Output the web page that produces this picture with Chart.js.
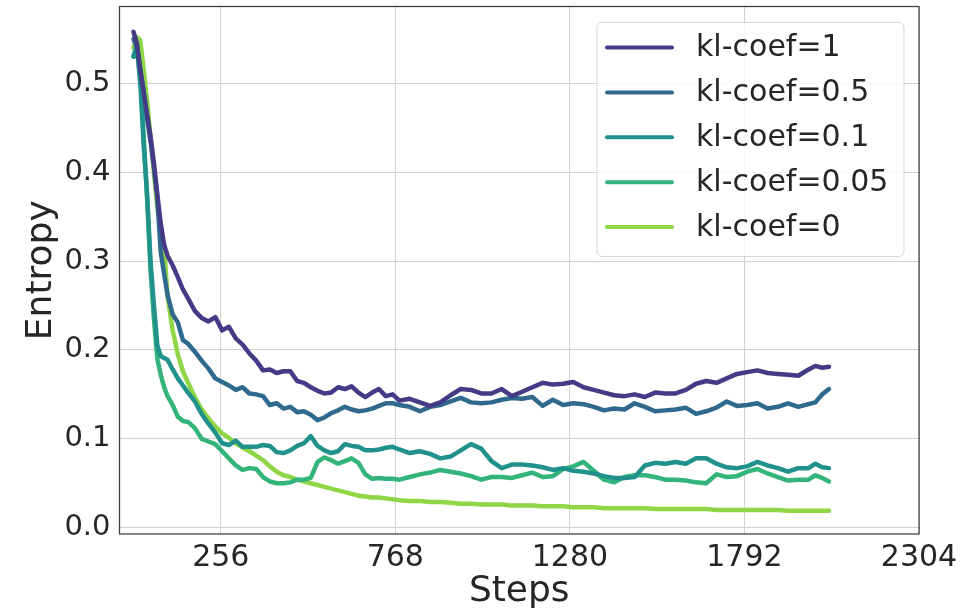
<!DOCTYPE html>
<html>
	<head>
		<meta charset="utf-8">
		<title>Entropy vs steps</title>
		<style>
			body {
				margin: 0;
				padding: 0;
				background: #fff;
			}
			#wrap {
				position: relative;
				width: 974px;
				height: 612px;
			}
		</style>
	</head>
	<body>
		<div id="wrap">
			<canvas id="myChart" width="974" height="612"></canvas>
		</div>
		<script src="https://cdn.jsdelivr.net/npm/chart.js@4.4.1/dist/chart.umd.min.js"></script>

		<script>
			// x positions of the readings (training steps)
			const steps = [
				0, 10, 20, 30, 40, 50, 60, 70, 80, 90, 100, 115, 130, 145, 160,
				180, 200, 220, 240, 260, 280, 300, 320, 340, 360, 380, 400, 420, 440, 460,
				480, 500, 520, 540, 560, 580, 600, 620, 640, 660, 680, 700, 720, 740, 760, 780,
				810, 840, 870, 900, 930, 960, 990, 1020, 1050, 1080, 1110, 1140, 1170, 1200,
				1230, 1260, 1290, 1320, 1350, 1380, 1410, 1440, 1470, 1500, 1530, 1560, 1590,
				1620, 1650, 1680, 1710, 1740, 1770, 1800, 1830, 1860, 1890, 1920, 1950, 1980,
				2000, 2020, 2040
			];

			const kl1 = [
				0.558, 0.545, 0.515, 0.49, 0.465, 0.44, 0.41, 0.375, 0.342, 0.318, 0.306, 0.295, 0.282, 0.268, 0.258,
				0.244, 0.236, 0.232, 0.237, 0.222, 0.226, 0.213, 0.206, 0.196, 0.188, 0.177, 0.178, 0.174, 0.176, 0.176,
				0.165, 0.163, 0.158, 0.154, 0.151, 0.152, 0.158, 0.156, 0.159, 0.152, 0.147, 0.152, 0.156, 0.148, 0.15, 0.143,
				0.145, 0.141, 0.137, 0.141, 0.149, 0.156, 0.155, 0.151, 0.151, 0.156, 0.148, 0.153, 0.158, 0.163,
				0.161, 0.162, 0.164, 0.158, 0.155, 0.152, 0.149, 0.148, 0.15, 0.147, 0.152, 0.151, 0.151,
				0.155, 0.162, 0.165, 0.163, 0.168, 0.173, 0.175, 0.177, 0.174, 0.173, 0.172, 0.171, 0.178,
				0.182, 0.18, 0.181
			];
			const kl05 = [
				0.55, 0.54, 0.515, 0.49, 0.46, 0.435, 0.405, 0.37, 0.31, 0.285, 0.262, 0.24, 0.231, 0.211, 0.207,
				0.198, 0.188, 0.179, 0.168, 0.164, 0.16, 0.155, 0.158, 0.151, 0.15, 0.148, 0.138, 0.14, 0.134, 0.136,
				0.13, 0.131, 0.127, 0.121, 0.124, 0.129, 0.132, 0.136, 0.133, 0.131, 0.132, 0.134, 0.137, 0.14, 0.14, 0.138,
				0.136, 0.131, 0.136, 0.138, 0.142, 0.146, 0.141, 0.14, 0.141, 0.144, 0.146, 0.145, 0.147, 0.137,
				0.144, 0.138, 0.14, 0.139, 0.136, 0.132, 0.134, 0.133, 0.14, 0.136, 0.131, 0.132, 0.133,
				0.135, 0.128, 0.131, 0.135, 0.142, 0.137, 0.138, 0.14, 0.134, 0.136, 0.14, 0.136, 0.139,
				0.141, 0.15, 0.156
			];
			const kl01 = [
				0.53, 0.54, 0.5, 0.43, 0.375, 0.3, 0.25, 0.205, 0.193, 0.191, 0.189, 0.178, 0.168, 0.16, 0.152,
				0.142, 0.128, 0.117, 0.107, 0.095, 0.093, 0.098, 0.091, 0.091, 0.091, 0.093, 0.092, 0.085, 0.084, 0.087,
				0.092, 0.095, 0.103, 0.092, 0.087, 0.084, 0.086, 0.094, 0.092, 0.091, 0.087, 0.087, 0.088, 0.09, 0.091, 0.088,
				0.084, 0.086, 0.083, 0.078, 0.08, 0.087, 0.094, 0.089, 0.075, 0.067, 0.071, 0.071, 0.07, 0.068,
				0.065, 0.067, 0.064, 0.063, 0.061, 0.058, 0.056, 0.056, 0.057, 0.07, 0.073, 0.072, 0.074,
				0.072, 0.078, 0.078, 0.072, 0.068, 0.067, 0.069, 0.074, 0.07, 0.067, 0.063, 0.067, 0.067,
				0.072, 0.068, 0.067
			];
			const kl005 = [
				0.53, 0.545, 0.51, 0.44, 0.37, 0.29, 0.235, 0.19, 0.172, 0.158, 0.148, 0.138, 0.125, 0.12, 0.119,
				0.112, 0.1, 0.097, 0.094, 0.086, 0.078, 0.07, 0.065, 0.067, 0.066, 0.057, 0.052, 0.05, 0.05, 0.051,
				0.054, 0.054, 0.056, 0.074, 0.079, 0.076, 0.072, 0.075, 0.078, 0.073, 0.06, 0.055, 0.056, 0.055, 0.055, 0.054,
				0.057, 0.06, 0.062, 0.065, 0.063, 0.061, 0.058, 0.054, 0.057, 0.057, 0.056, 0.059, 0.062, 0.057,
				0.058, 0.066, 0.069, 0.074, 0.064, 0.054, 0.051, 0.057, 0.059, 0.059, 0.057, 0.054, 0.054,
				0.053, 0.051, 0.05, 0.06, 0.057, 0.058, 0.063, 0.066, 0.061, 0.057, 0.053, 0.054, 0.054,
				0.059, 0.056, 0.052
			];
			const kl0 = [
				0.54, 0.552, 0.548, 0.515, 0.48, 0.44, 0.4, 0.36, 0.335, 0.315, 0.26, 0.222, 0.195, 0.176, 0.163,
				0.147, 0.133, 0.123, 0.114, 0.106, 0.101, 0.095, 0.09, 0.086, 0.081, 0.076, 0.069, 0.063, 0.059, 0.057,
				0.054, 0.052, 0.05, 0.048, 0.046, 0.044, 0.042, 0.04, 0.038, 0.036, 0.035, 0.034, 0.034, 0.033, 0.032, 0.031,
				0.03, 0.03, 0.029, 0.029, 0.028, 0.027, 0.027, 0.026, 0.026, 0.026, 0.025, 0.025, 0.025, 0.024,
				0.024, 0.024, 0.023, 0.023, 0.023, 0.022, 0.022, 0.022, 0.022, 0.022, 0.021, 0.021, 0.021,
				0.021, 0.021, 0.021, 0.02, 0.02, 0.02, 0.02, 0.02, 0.02, 0.02, 0.019, 0.019, 0.019,
				0.019, 0.019, 0.019
			];

			const labels = ["kl-coef=1", "kl-coef=0.5", "kl-coef=0.1", "kl-coef=0.05", "kl-coef=0"];
			const colors = ["#433b86", "#2f6a8e", "#21918c", "#33b47a", "#8ed645"];
			const xTicks = [256, 768, 1280, 1792, 2304];
			const yTicks = [0.0, 0.1, 0.2, 0.3, 0.4, 0.5];

			const series = [kl1, kl05, kl01, kl005, kl0];
			const FONT = "'DejaVu Sans', sans-serif";
			const INK = "#262626";

			// spines on all four sides
			const frame = {
				id: "frame",
				afterDatasetsDraw(chart) {
					const a = chart.chartArea;
					const c = chart.ctx;
					c.save();
					c.strokeStyle = "#3d3d3d";
					c.lineWidth = 1.25;
					c.strokeRect(a.left, a.top, a.right - a.left, a.bottom - a.top);
					c.restore();
				},
			};

			// matplotlib style legend box, top right inside the axes
			const boxLegend = {
				id: "boxLegend",
				afterDraw(chart) {
					const a = chart.chartArea;
					const c = chart.ctx;
					const x0 = a.right - 15, y0 = a.top + 16;
					const w = 307, h = 234;
					const bx = x0 - w;
					c.save();
					c.beginPath();
					c.roundRect(bx, y0, w, h, 5);
					c.fillStyle = "rgba(255,255,255,0.8)";
					c.fill();
					c.strokeStyle = "rgba(204,204,204,0.8)";
					c.lineWidth = 1;
					c.stroke();
					c.font = "30px " + FONT;
					c.textBaseline = "middle";
					c.fillStyle = INK;
					chart.data.datasets.forEach((ds, i) => {
						const y = y0 + 25 + i * 44.9;
						c.beginPath();
						c.moveTo(bx + 10, y);
						c.lineTo(bx + 75, y);
						c.strokeStyle = ds.borderColor;
						c.lineWidth = 4;
						c.lineCap = "round";
						c.stroke();
						c.fillText(ds.label, bx + 99, y + 1);
					});
					c.restore();
				},
			};

			new Chart(document.getElementById("myChart"), {
				type: "line",
				data: {
					labels: steps,
					datasets: series.map((vals, i) => ({
						label: labels[i],
						data: vals.map((v, j) => ({ x: steps[j], y: v })),
						borderColor: colors[i],
						backgroundColor: colors[i],
						borderWidth: 4.5,
						borderCapStyle: "round",
						borderJoinStyle: "round",
						pointRadius: 0,
						tension: 0,
						fill: false,
					})),
				},
				options: {
					responsive: false,
					animation: false,
					layout: { padding: { top: 6.5, right: 55, left: 0, bottom: 0 } },
					plugins: {
						legend: { display: false },
						tooltip: { enabled: false },
					},
					scales: {
						x: {
							type: "linear",
							min: -41,
							max: 2304,
							afterBuildTicks: s => { s.ticks = xTicks.map(v => ({ value: v })); },
							afterFit: s => { s.height = 78; s.paddingLeft = 0; s.paddingRight = 0; },
							grid: { color: "#d0d0d0", lineWidth: 1, drawTicks: false },
							border: { display: false },
							ticks: {
								padding: 6,
								color: INK,
								font: { family: FONT, size: 30 },
								maxRotation: 0,
								callback: v => String(v),
							},
							title: {
								display: true,
								text: "Steps",
								color: INK,
								font: { family: FONT, size: 36 },
								padding: { top: 0, bottom: -1 },
							},
						},
						y: {
							min: -0.0071,
							max: 0.5864,
							afterBuildTicks: s => { s.ticks = yTicks.map(v => ({ value: v })); },
							afterFit: s => { s.width = 119.5; s.paddingTop = 0; s.paddingBottom = 0; },
							grid: { color: "#d0d0d0", lineWidth: 1, drawTicks: false },
							border: { display: false },
							ticks: {
								padding: 9,
								color: INK,
								font: { family: FONT, size: 29 },
								callback: v => v.toFixed(1),
							},
							title: {
								display: true,
								text: "Entropy",
								color: INK,
								font: { family: FONT, size: 36 },
								padding: { top: 20, bottom: 0 },
							},
						},
					},
				},
				plugins: [frame, boxLegend],
			});
		</script>
	</body>
</html>
